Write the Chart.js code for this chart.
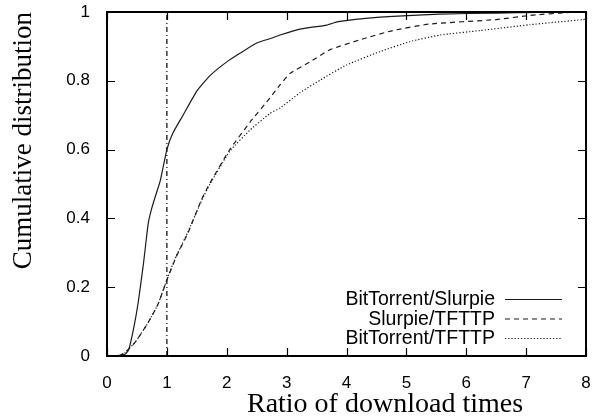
<!DOCTYPE html>
<html>
<head>
<meta charset="utf-8">
<script src="https://cdn.jsdelivr.net/npm/chart.js@4"></script>
<style>
    html, body { margin: 0; padding: 0; background: #fff; }
    #wrap { width: 603px; height: 420px; }
</style>
</head>
<body>
<div id="wrap"><canvas id="cdfChart" width="603" height="420"></canvas></div>
<script>
// Series values
const slurpieLabel = 'BitTorrent/Slurpie';
const slurpieX = [0.13, 0.3, 0.36, 0.44, 0.52, 0.61, 0.65, 0.69, 0.74, 0.8, 0.89, 1.0, 1.1, 1.27, 1.5, 1.72, 2.0, 2.22, 2.5, 2.77, 2.89, 3.22, 3.67, 3.86, 4.56, 5.56, 6.5, 7.2, 8.0];
const slurpieY = [0, 0.005, 0.017, 0.076, 0.154, 0.27, 0.33, 0.387, 0.425, 0.46, 0.51, 0.6, 0.648, 0.7, 0.77, 0.815, 0.855, 0.88, 0.91, 0.925, 0.933, 0.95, 0.962, 0.972, 0.985, 0.994, 0.997, 0.999, 1.0];

const tftpSlurpieLabel = 'Slurpie/TFTTP';
const tftpSlurpieX = [0.2, 0.3, 0.47, 0.68, 0.85, 1.02, 1.16, 1.35, 1.58, 1.72, 2.05, 2.39, 2.72, 2.89, 3.06, 3.39, 3.72, 4.22, 4.77, 5.39, 6.5, 7.06, 7.73, 8.0];
const tftpSlurpieY = [0, 0.01, 0.04, 0.095, 0.15, 0.23, 0.29, 0.357, 0.455, 0.503, 0.6, 0.68, 0.75, 0.788, 0.822, 0.855, 0.89, 0.919, 0.946, 0.965, 0.978, 0.99, 0.999, 1.0];

const tftpTorrentLabel = 'BitTorrent/TFTTP';
const tftpTorrentX = [0.2, 0.3, 0.47, 0.68, 0.85, 1.02, 1.16, 1.35, 1.58, 1.72, 2.05, 2.39, 2.72, 2.89, 3.22, 3.56, 4.0, 4.56, 5.06, 5.56, 6.23, 7.06, 7.95, 8.0];
const tftpTorrentY = [0, 0.01, 0.04, 0.095, 0.15, 0.232, 0.292, 0.36, 0.452, 0.5, 0.595, 0.657, 0.705, 0.721, 0.765, 0.802, 0.846, 0.885, 0.914, 0.933, 0.946, 0.963, 0.978, 0.979];

// Vertical marker at ratio = 1
const markerX = [1, 1];
const markerY = [0, 1];

// Axis ticks
const xTicks = [0, 1, 2, 3, 4, 5, 6, 7, 8];
const yTicks = [0, 0.2, 0.4, 0.6, 0.8, 1];

const xTitle = 'Ratio of download times';
const yTitle = 'Cumulative distribution';

// Pair x and y arrays into points
function toPoints(xs, ys) {
    return xs.map((x, i) => ({ x: x, y: ys[i] }));
}

// Frame and inward tick marks (gnuplot style)
const framePlugin = {
    id: 'frame',
    afterDatasetsDraw(chart) {
        const { ctx, chartArea: a, scales } = chart;
        const len = 8;
        ctx.save();
        ctx.strokeStyle = '#000';
        ctx.lineWidth = 1.2;
        ctx.beginPath();
        xTicks.forEach(v => {
            const px = Math.round(scales.x.getPixelForValue(v)) + 0.5;
            ctx.moveTo(px, a.bottom); ctx.lineTo(px, a.bottom - len);
            ctx.moveTo(px, a.top); ctx.lineTo(px, a.top + len);
        });
        yTicks.forEach(v => {
            const py = Math.round(scales.y.getPixelForValue(v)) + 0.5;
            ctx.moveTo(a.left, py); ctx.lineTo(a.left + len, py);
            ctx.moveTo(a.right, py); ctx.lineTo(a.right - len, py);
        });
        ctx.stroke();
        ctx.lineWidth = 2;
        ctx.strokeRect(a.left, a.top, a.right - a.left, a.bottom - a.top);
        ctx.restore();
    }
};

// Legend inside the plot, text on the left and line sample on the right
const keyPlugin = {
    id: 'key',
    afterDatasetsDraw(chart) {
        const { ctx } = chart;
        const textRight = 495;
        const sampleLeft = 505;
        const sampleRight = 562;
        const rows = [299, 318.5, 338];
        ctx.save();
        ctx.font = '19.5px "Liberation Sans", Arial, sans-serif';
        ctx.textAlign = 'right';
        ctx.textBaseline = 'middle';
        let row = 0;
        chart.data.datasets.forEach(ds => {
            if (ds.hideInKey) return;
            const y = rows[row++];
            ctx.fillStyle = '#000';
            ctx.fillText(ds.label, textRight, y + 1);
            ctx.beginPath();
            ctx.strokeStyle = ds.borderColor;
            ctx.lineWidth = ds.borderWidth;
            ctx.setLineDash(ds.borderDash || []);
            ctx.moveTo(sampleLeft, y + 0.5);
            ctx.lineTo(sampleRight, y + 0.5);
            ctx.stroke();
        });
        ctx.restore();
    }
};

// X axis title, placed like the original (a bit right of the plot centre)
const xTitlePlugin = {
    id: 'xTitle',
    afterDraw(chart) {
        const { ctx } = chart;
        ctx.save();
        ctx.font = '28px "Liberation Serif", "DejaVu Serif", serif';
        ctx.fillStyle = '#000';
        ctx.textAlign = 'center';
        ctx.textBaseline = 'alphabetic';
        ctx.fillText(xTitle, 385, 412);
        ctx.restore();
    }
};

const tickFont = { family: '"Liberation Sans", Arial, sans-serif', size: 17 };
const titleFont = { family: '"Liberation Serif", "DejaVu Serif", serif', size: 27 };

new Chart(document.getElementById('cdfChart'), {
    type: 'line',
    data: {
        datasets: [
            {
                label: slurpieLabel,
                data: toPoints(slurpieX, slurpieY),
                borderColor: '#1a1a1a',
                borderWidth: 1.2,
                pointRadius: 0,
                tension: 0.15
            },
            {
                label: tftpSlurpieLabel,
                data: toPoints(tftpSlurpieX, tftpSlurpieY),
                borderColor: '#1a1a1a',
                borderWidth: 1.2,
                borderDash: [5, 4],
                pointRadius: 0,
                tension: 0.15
            },
            {
                label: tftpTorrentLabel,
                data: toPoints(tftpTorrentX, tftpTorrentY),
                borderColor: '#1a1a1a',
                borderWidth: 1.2,
                borderDash: [1.2, 2],
                pointRadius: 0,
                tension: 0.15
            },
            {
                label: 'ratio = 1',
                hideInKey: true,
                data: toPoints(markerX, markerY),
                borderColor: '#000',
                borderWidth: 1.2,
                borderDash: [5, 3, 1, 3],
                pointRadius: 0
            }
        ]
    },
    options: {
        responsive: false,
        animation: false,
        layout: { padding: { left: 0, top: 12, right: 17, bottom: 0 } },
        plugins: {
            legend: { display: false },
            tooltip: { enabled: false }
        },
        scales: {
            x: {
                type: 'linear',
                min: 0,
                max: 8,
                afterFit: (scale) => {
                    scale.height = 64;
                    scale.paddingLeft = 0;
                    scale.paddingRight = 0;
                },
                afterBuildTicks: (scale) => { scale.ticks = xTicks.map(v => ({ value: v })); },
                grid: { display: false, drawTicks: false },
                border: { display: false },
                ticks: { color: '#000', font: tickFont, padding: 17, maxRotation: 0 },
                title: { display: false, text: xTitle }
            },
            y: {
                type: 'linear',
                min: 0,
                max: 1,
                afterFit: (scale) => {
                    scale.width = 107;
                    scale.paddingTop = 0;
                    scale.paddingBottom = 0;
                },
                afterBuildTicks: (scale) => { scale.ticks = yTicks.map(v => ({ value: v })); },
                grid: { display: false, drawTicks: false },
                border: { display: false },
                ticks: { color: '#000', font: tickFont, padding: 17, callback: (v) => String(v) },
                title: { display: true, text: yTitle, color: '#000', font: titleFont, align: 'end', padding: { top: 8, bottom: 0 } }
            }
        }
    },
    plugins: [framePlugin, keyPlugin, xTitlePlugin]
});
</script>
</body>
</html>
